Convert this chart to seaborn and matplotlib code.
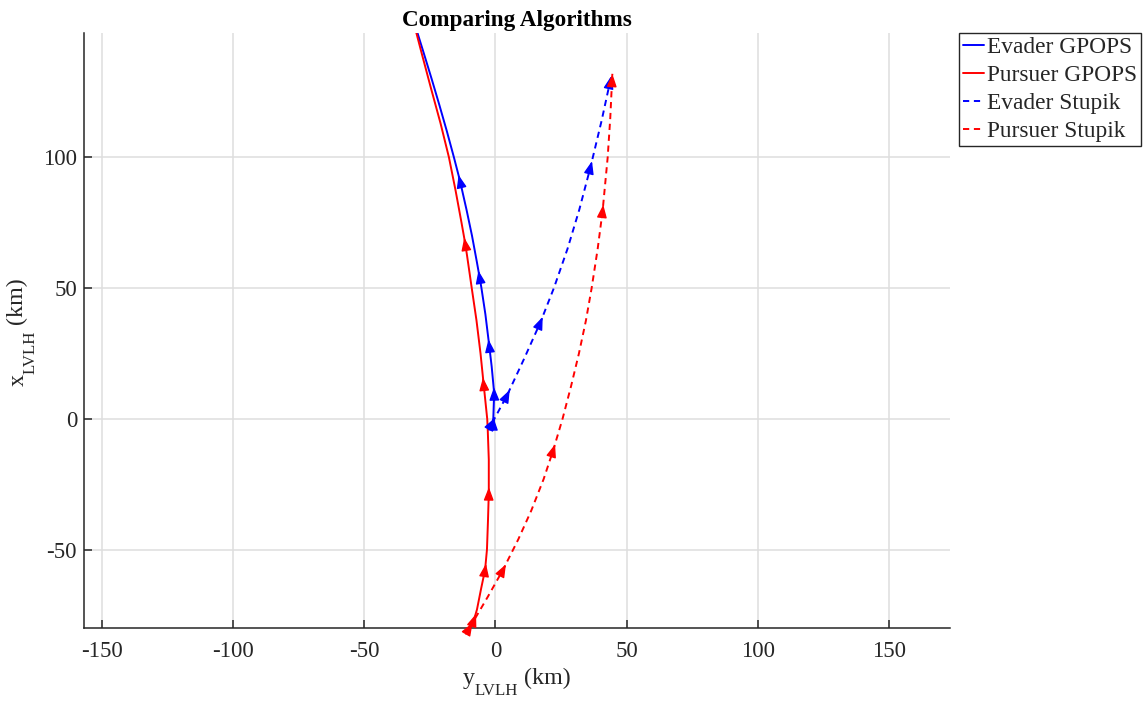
import numpy as np
import pandas as pd
import matplotlib
matplotlib.use("Agg")
import matplotlib.pyplot as plt
import seaborn as sns

# ---------------- data (horizontal = y_LVLH, vertical = x_LVLH, km) ----------------
evader_gpops_y = [-0.84, -0.46, -1.4, -2.36, -3.8, -5.3, -6.07, -7.05, -8.9, -11.0,
                  -13.5, -15.8, -18.5, -21.35, -24.3, -27.35, -30.45]
evader_gpops_x = [-1.52, 9.91, 20.0, 28.2, 40.0, 50.0, 54.5, 60.0, 70.0, 80.0,
                  91.08, 100.0, 110.0, 120.0, 130.0, 140.0, 150.0]
evader_gpops_arrows = [0, 1, 3, 6, 10]

pursuer_gpops_y = [-10.0, -8.1, -7.0, -5.5, -3.9, -3.2, -2.8, -2.5, -2.5, -2.9, -3.1, -4.5,
                   -5.65, -7.2, -9.0, -10.8, -11.5, -12.9, -15.2, -17.7, -20.9, -24.6, -28.15, -30.75]
pursuer_gpops_x = [-81.2, -76.6, -72.8, -65.2, -57.5, -49.9, -38.5, -28.3, -15.6, -4.2, 0.0, 13.6,
                   25.0, 37.7, 50.0, 62.5, 67.1, 75.0, 87.5, 100.0, 113.0, 126.6, 140.0, 150.0]
pursuer_gpops_arrows = [1, 4, 7, 11, 16]

evader_stupik_y = [-1.2, 4.5, 10.96, 17.2, 22.3, 27.5, 32.0, 36.3, 40.5, 44.2]
evader_stupik_x = [-1.5, 9.1, 23.0, 37.0, 50.0, 65.0, 80.0, 96.4, 114.0, 131.1]
evader_stupik_arrows = [0, 1, 3, 7, 9]

pursuer_stupik_y = [-9.8, -2.9, 3.0, 8.75, 13.7, 18.4, 22.1, 25.6, 28.85, 31.85, 34.5, 36.7,
                    39.0, 40.9, 42.8, 43.8, 44.6]
pursuer_stupik_x = [-79.8, -68.0, -57.5, -46.0, -35.0, -23.0, -11.8, 0.0, 12.5, 25.0, 37.5, 50.0,
                    65.0, 79.7, 99.8, 115.0, 131.9]
pursuer_stupik_arrows = [0, 2, 6, 13, 16]

series_labels = ["Evader GPOPS", "Pursuer GPOPS", "Evader Stupik", "Pursuer Stupik"]
x_ticks = [-150, -100, -50, 0, 50, 100, 150]
y_ticks = [-50, 0, 50, 100]

# ---------------- style ----------------
sns.set_theme(style="whitegrid")
plt.rcParams["font.family"] = ["Liberation Serif", "DejaVu Serif"]
plt.rcParams["axes.unicode_minus"] = False

W, H = 1143, 702
fig = plt.figure(figsize=(W / 100, H / 100), dpi=100)
ax = fig.add_axes([84 / W, 1 - 628 / H, (950 - 84) / W, (628 - 33) / H])

LW = 1.4
series = [
    (evader_gpops_y, evader_gpops_x, evader_gpops_arrows, "blue", "-"),
    (pursuer_gpops_y, pursuer_gpops_x, pursuer_gpops_arrows, "red", "-"),
    (evader_stupik_y, evader_stupik_x, evader_stupik_arrows, "blue", "--"),
    (pursuer_stupik_y, pursuer_stupik_x, pursuer_stupik_arrows, "red", "--"),
]

handles = []
for (ys, xs, arrows, color, ls), lab in zip(series, series_labels):
    df = pd.DataFrame({"y": ys, "x": xs})
    n_before = len(ax.lines)
    sns.lineplot(data=df, x="y", y="x", sort=False, estimator=None, color=color,
                 lw=LW, ax=ax, legend=False)
    line = ax.lines[n_before]
    if ls == "--":
        line.set_dashes((3.2, 2.4))
    handles.append(line)

    ya = np.asarray(ys, float)
    xa = np.asarray(xs, float)
    n = len(ya)
    for i in arrows:
        j0, j1 = max(i - 1, 0), min(i + 1, n - 1)
        d = np.array([ya[j1] - ya[j0], xa[j1] - xa[j0]])
        d = d / np.hypot(*d)
        p = np.array([ya[i], xa[i]])
        tip = p if i == n - 1 else p + d * 2.2
        tail = tip - d * 5.0
        ax.annotate("", xy=tip, xytext=tail,
                    arrowprops=dict(arrowstyle="-|>,head_length=0.78,head_width=0.3",
                                    color=color, lw=1.0, shrinkA=0, shrinkB=0,
                                    mutation_scale=10))

ax.set_xlabel("")
ax.set_ylabel("")
ax.set_xlim(-156.8, 173.3)
ax.set_ylim(-79.9, 147.5)
ax.set_xticks(x_ticks)
ax.set_yticks(y_ticks)
ax.set_xticklabels([str(t) for t in x_ticks])
ax.set_yticklabels([str(t) for t in y_ticks])

ax.grid(True, color="#dedede", lw=1.1)
ax.set_axisbelow(True)
for s in ["top", "right"]:
    ax.spines[s].set_visible(False)
for s in ["left", "bottom"]:
    ax.spines[s].set_color("#262626")
    ax.spines[s].set_linewidth(1.1)
ax.tick_params(direction="in", length=6, width=1.1, color="#262626",
               labelsize=16.5, labelcolor="#262626", bottom=True, left=True)
ax.tick_params(axis="x", pad=9.5)
ax.tick_params(axis="y", pad=5)

ax.set_title("Comparing Algorithms", fontsize=16.7, fontweight="bold", color="black", pad=5)

# ---------------- axis labels with MATLAB-like subscripts ----------------
renderer = fig.canvas.get_renderer()
LABEL_COLOR = "#262626"


def compound_label(pieces, center_px, baseline_px, vertical):
    """pieces: (text, fontsize, drop_px); positions in display pixels (origin bottom-left)."""
    objs, sizes = [], []
    for txt, size, drop in pieces:
        t = fig.text(0, 0, txt, fontsize=size, color=LABEL_COLOR,
                     rotation=90 if vertical else 0, rotation_mode="anchor",
                     ha="left", va="baseline")
        bb = t.get_window_extent(renderer)
        objs.append(t)
        sizes.append(bb.height if vertical else bb.width)
    pos = center_px - sum(sizes) / 2
    for t, s, (txt, size, drop) in zip(objs, sizes, pieces):
        if vertical:
            t.set_position(((baseline_px + drop) / W, pos / H))
        else:
            t.set_position((pos / W, (baseline_px - drop) / H))
        pos += s


compound_label([("y", 17.3, 0), ("LVLH", 12.2, 11), (" (km)", 17.3, 0)],
               center_px=517, baseline_px=H - 684, vertical=False)
compound_label([("x", 17.3, 0), ("LVLH", 12.2, 11), (" (km)", 17.3, 0)],
               center_px=H - 332, baseline_px=23.5, vertical=True)

leg = fig.legend(handles, series_labels, loc="upper left",
                 bbox_to_anchor=(959 / W, 1 - 33 / H), frameon=True, fancybox=False,
                 edgecolor="#262626", framealpha=1, fontsize=16.8, handlelength=0.9,
                 handletextpad=0.12, labelspacing=0.285, borderpad=0.17, borderaxespad=0)
leg.get_frame().set_linewidth(1.0)

fig.savefig("out.png", dpi=100)
